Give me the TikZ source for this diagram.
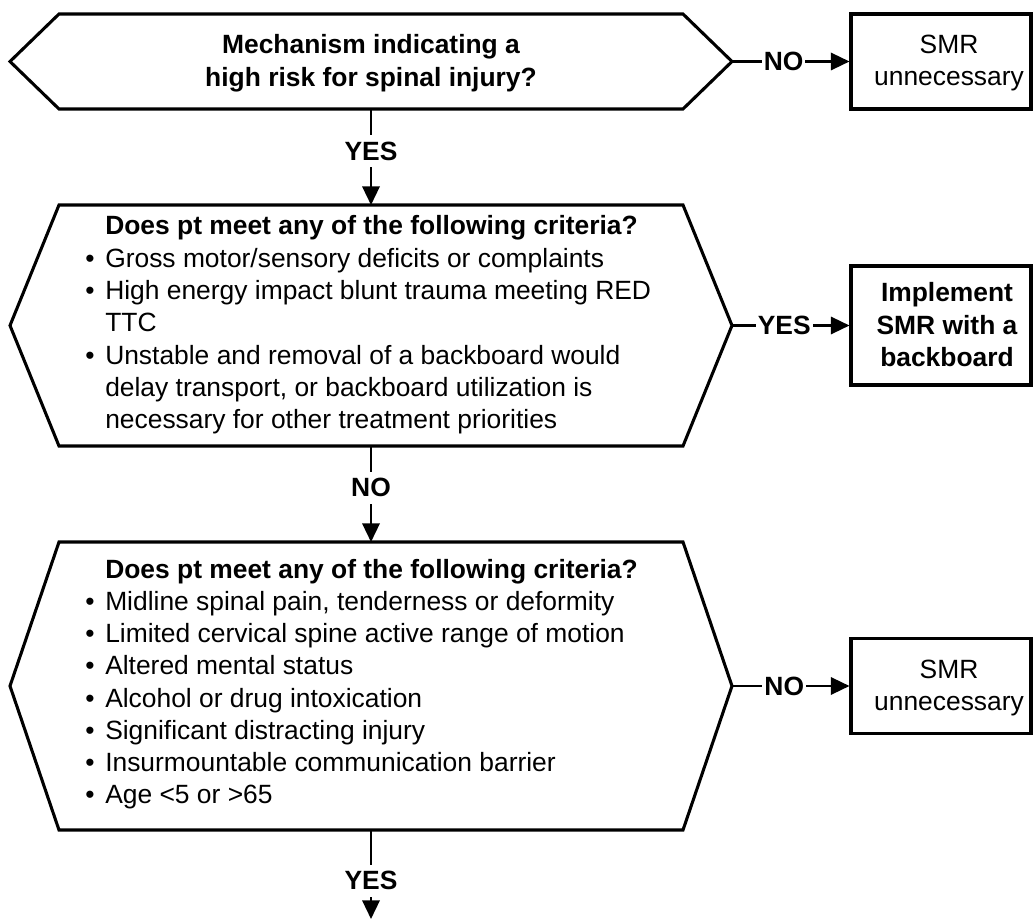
\documentclass[tikz,border=0pt]{standalone}
\usepackage{fontspec}
\setmainfont{Liberation Sans}
\usetikzlibrary{arrows.meta,calc}
\newcommand\blt{\makebox[15pt][l]{\textbullet}}
\newcommand\ind{\hspace*{15pt}}
\begin{document}
\begin{tikzpicture}[x=0.75pt,y=-0.75pt,
  shp/.style={line width=2.3pt, line join=miter},
  hexarea/.style={inner sep=0pt, outer sep=0pt, minimum width=541.5pt},
  boxst/.style={draw, line width=2.3pt, inner sep=0pt, minimum width=135pt},
  conn/.style={line width=1.8pt, -{Triangle[length=14pt,width=13pt]}},
  lbl/.style={fill=white, inner xsep=1.5pt, inner ysep=5pt, font=\fontsize{19.8pt}{24.2pt}\selectfont\bfseries},
  txt/.style={inner sep=0pt, font=\fontsize{19.8pt}{24.2pt}\selectfont},
  txtb/.style={inner sep=0pt, font=\fontsize{19.8pt}{24.2pt}\selectfont\bfseries}]
\useasboundingbox (0,0) rectangle (1034,919);

% hexagon areas
\node[hexarea, minimum height=71.25pt] (h1) at (371,61.5) {};
\node[hexarea, minimum height=180.75pt] (h2) at (371,325.5) {};
\node[hexarea, minimum height=216pt] (h3) at (371,686) {};
\foreach \h in {h1,h2,h3}{
  \draw[shp] (\h.west) -- ($(\h.north west)+(49,0)$) -- ($(\h.north east)+(-49,0)$)
    -- (\h.east) -- ($(\h.south east)+(-49,0)$) -- ($(\h.south west)+(49,0)$) -- cycle;
}

% boxes
\node[boxst, minimum height=71.25pt] (b1) at (941,61.5) {};
\node[boxst, minimum height=89.25pt] (b2) at (941,325.5) {};
\node[boxst, minimum height=71.25pt] (b3) at (941,686) {};

% texts
\node[txtb, anchor=base] (t1) at (371,54) {\begin{tabular}[t]{@{}c@{}}Mechanism indicating a\\ high risk for spinal injury?\end{tabular}};
\node[txt, anchor=base west] (t2) at (85,235) {\begin{tabular}[t]{@{}l@{}}
\ind\textbf{Does pt meet any of the following criteria?}\\
\blt Gross motor/sensory deficits or complaints\\
\blt High energy impact blunt trauma meeting RED\\
\ind TTC\\
\blt Unstable and removal of a backboard would\\
\ind delay transport, or backboard utilization is\\
\ind necessary for other treatment priorities
\end{tabular}};
\node[txt, anchor=base west] (t3) at (85,578) {\begin{tabular}[t]{@{}l@{}}
\ind\textbf{Does pt meet any of the following criteria?}\\
\blt Midline spinal pain, tenderness or deformity\\
\blt Limited cervical spine active range of motion\\
\blt Altered mental status\\
\blt Alcohol or drug intoxication\\
\blt Significant distracting injury\\
\blt Insurmountable communication barrier\\
\blt Age <5 or >65
\end{tabular}};
\node[txt, anchor=base] (bt1) at (949,53.5) {\begin{tabular}[t]{@{}c@{}}SMR\\ unnecessary\end{tabular}};
\node[txtb, anchor=base] (bt2) at (947,302) {\begin{tabular}[t]{@{}c@{}}Implement\\ SMR with a\\ backboard\end{tabular}};
\node[txt, anchor=base] (bt3) at (949,678) {\begin{tabular}[t]{@{}c@{}}SMR\\ unnecessary\end{tabular}};

% connectors
\coordinate (end) at (371,919);
\draw[conn] (h1.east) -- node[lbl,pos=0.44] (l1) {NO} (b1.west);
\draw[conn] (h1.south) -- node[lbl,pos=0.44] (l2) {YES} (h2.north);
\draw[conn] (h2.east) -- node[lbl,pos=0.445] (l3) {YES} (b2.west);
\draw[conn] (h2.south) -- node[lbl,pos=0.435] (l4) {NO} (h3.north);
\draw[conn] (h3.east) -- node[lbl,pos=0.445] (l5) {NO} (b3.west);
\draw[conn] (h3.south) -- node[lbl,pos=0.57] (l6) {YES} (end);
\end{tikzpicture}
\end{document}
